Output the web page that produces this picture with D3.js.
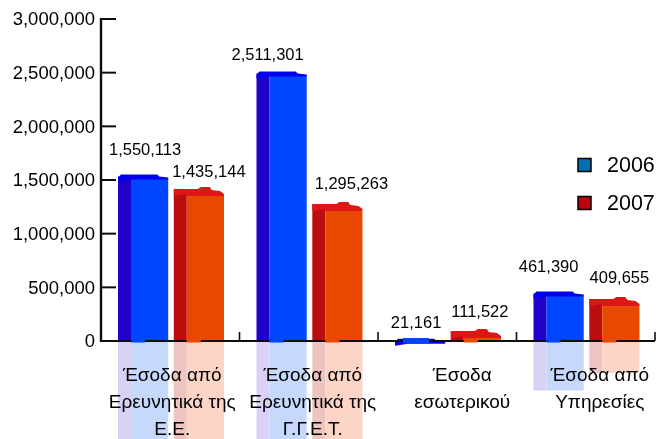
<!DOCTYPE html>
<html>
<head>
<meta charset="utf-8">
<script src="https://cdn.jsdelivr.net/npm/d3@7"></script>
<style>
    html, body { margin: 0; padding: 0; background: #fff; }
    svg { display: block; font-family: "Liberation Sans", Arial, sans-serif; }
</style>
</head>
<body>
<svg id="chart" width="660" height="439"></svg>
<script>
/*************************************data*************************************/
const categories = [
    ["Έσοδα από", "Ερευνητικά της", "Ε.Ε."],
    ["Έσοδα από", "Ερευνητικά της", "Γ.Γ.Ε.Τ."],
    ["Έσοδα", "εσωτερικού"],
    ["Έσοδα από", "Υπηρεσίες"]
]
const seriesNames = ["2006", "2007"]
const values2006 = [1550113, 2511301, 21161, 461390]
const values2007 = [1435144, 1295263, 111522, 409655]
const yTicks = [0, 500000, 1000000, 1500000, 2000000, 2500000, 3000000]

/*************************************style************************************/
const palette = {
    "2006": { side: "#2200cc", front: "#0044ff", cap: "#0000ee", sideRef: "#d9d2f6", frontRef: "#c6d9fc", legend: "#0070b0" },
    "2007": { side: "#bb1111", front: "#e84a00", cap: "#e01818", sideRef: "#eec4c1", frontRef: "#fdd5c6", legend: "#c00010" }
}
// value labels were placed by hand in the original, blue then red per group
const labelLift = [[20, 10], [11, 13], [11, 12], [19, 14]]
const labelShift = [[0, 8], [-16, 12], [-6, 2], [-12, 3]]
const catShift = [2, 4, 15, 14]

const width = 660, height = 439
const axisLeft = 101, axisRight = 655
const svg = d3.select("#chart")

const defs = svg.append("defs")
defs.append("filter").attr("id", "soft").attr("x", "-5%").attr("y", "-5%").attr("width", "110%").attr("height", "110%")
    .append("feGaussianBlur").attr("stdDeviation", 0.4)
defs.append("filter").attr("id", "rough").attr("x", "-5%").attr("y", "-20%").attr("width", "110%").attr("height", "140%")
    .append("feGaussianBlur").attr("stdDeviation", 0.75)

const yScale = d3.scaleLinear().domain([0, 3000000]).range([341, 19])
const xScale = d3.scaleBand().domain(d3.range(categories.length)).range([axisLeft, axisRight])
const innerX = d3.scaleBand().domain(seriesNames).range([17, 123]).paddingInner(0.1)
const bw = innerX.bandwidth()
const sideW = 13

const rows = []
seriesNames.forEach((name, s) => {
    const vals = s === 0 ? values2006 : values2007
    vals.forEach((v, i) => rows.push({ name, s, i, v }))
})
const barX = d => xScale(d.i) + innerX(d.name)
// mirror image under the axis, the red one loses its deeper cap
const refHeight = d => {
    const h = yScale(0) - yScale(d.v) - (d.s === 0 ? 0 : 12)
    return h < 5 ? 0 : h
}

const root = svg.append("g").attr("filter", "url(#soft)")

/*************************************reflections******************************/
const reflect = root.append("g")
reflect.selectAll("rect.sideRef").data(rows).enter().append("rect")
    .attr("x", barX).attr("y", yScale(0)).attr("width", sideW).attr("height", refHeight)
    .attr("fill", d => palette[d.name].sideRef)
reflect.selectAll("rect.frontRef").data(rows).enter().append("rect")
    .attr("x", d => barX(d) + sideW).attr("y", yScale(0)).attr("width", bw - sideW).attr("height", refHeight)
    .attr("fill", d => palette[d.name].frontRef)

/*************************************bars*************************************/
const bars = root.append("g")
const capDepth = d => d.s === 0 ? 4 : 9
bars.selectAll("rect.side").data(rows).enter().append("rect")
    .attr("x", barX).attr("y", d => yScale(d.v) + 2).attr("width", sideW)
    .attr("height", d => Math.max(0, yScale(0) - yScale(d.v) - 2))
    .attr("fill", d => palette[d.name].side)
bars.selectAll("rect.front").data(rows).enter().append("rect")
    .attr("x", d => barX(d) + sideW).attr("y", d => yScale(d.v) + capDepth(d)).attr("width", bw - sideW)
    .attr("height", d => Math.max(0, yScale(0) - yScale(d.v) - capDepth(d)))
    .attr("fill", d => palette[d.name].front)
bars.selectAll("path.cap").data(rows).enter().append("path")
    .attr("fill", d => palette[d.name].cap)
    .attr("d", d => {
        const x0 = barX(d), x1 = x0 + bw, t = yScale(d.v)
        if (d.s === 0) {
            return d3.line()([[x0, t + 3], [x0 + 3, t], [x1 - 11, t], [x1 - 9, t + 2], [x1, t + 3],
                [x1, t + 5], [x0 + sideW, t + 5], [x0, t + 7]])
        }
        return d3.line()([[x0, t + 2], [x0 + 24, t + 2], [x0 + 27, t], [x0 + 36, t], [x0 + 38, t + 3], [x1 - 4, t + 4],
            [x1, t + 7], [x1, t + 9], [x0 + sideW, t + 9], [x0 + 11, t + 7], [x0, t + 9]])
    })

/*************************************axes*************************************/
const yAxis = d3.axisLeft(yScale).tickValues(yTicks).tickFormat(d3.format(",")).tickSize(0).tickPadding(6)
const gy = svg.append("g").attr("transform", "translate(" + axisLeft + ",0)").attr("filter", "url(#rough)").call(yAxis)
gy.select(".domain").remove()
gy.selectAll("line").remove()
gy.selectAll("text").attr("font-size", 18.5).attr("fill", "#000").attr("font-family", "Liberation Sans")

const axisLines = root.append("g").attr("stroke", "#111").attr("fill", "none")
axisLines.append("line").attr("x1", axisLeft).attr("x2", axisLeft).attr("y1", yScale(3000000) - 1).attr("y2", yScale(0) + 1).attr("stroke-width", 2.4)
axisLines.selectAll("line.ytick").data(yTicks).enter().append("line")
    .attr("x1", axisLeft).attr("x2", axisLeft + 15).attr("y1", d => yScale(d)).attr("y2", d => yScale(d)).attr("stroke-width", 2)
axisLines.append("line").attr("x1", axisLeft).attr("x2", axisRight).attr("y1", yScale(0)).attr("y2", yScale(0)).attr("stroke-width", 2)
axisLines.selectAll("line.xtick").data(d3.range(1, categories.length + 1)).enter().append("line")
    .attr("x1", i => axisLeft + i * xScale.step()).attr("x2", i => axisLeft + i * xScale.step())
    .attr("y1", yScale(0)).attr("y2", yScale(0) - 9).attr("stroke-width", 1.6)

// the left part of every bar foot sits on top of the axis line, wider for the tiny bar
root.append("g").selectAll("path.foot").data(rows).enter().append("path")
    .attr("fill", d => palette[d.name].front)
    .attr("d", d => {
        const x0 = barX(d), tiny = d.v < 50000
        const a = tiny ? x0 + 8 : x0 + sideW, b = tiny ? x0 + 34 : x0 + 27, low = tiny ? 2.5 : 1.5
        return d3.line()([[a, yScale(0) - 3], [b, yScale(0) - 3], [b, yScale(0) + low], [a, yScale(0) + low]])
    })

/*************************************labels***********************************/
svg.append("g").attr("filter", "url(#rough)").selectAll("text.value").data(rows).enter().append("text")
    .attr("x", d => barX(d) + bw / 2 + labelShift[d.i][d.s] + 2)
    .attr("y", d => yScale(d.v) - labelLift[d.i][d.s])
    .attr("text-anchor", "middle").attr("font-size", 16.5).attr("fill", "#000")
    .text(d => d3.format(",")(d.v))

const catLabels = root.append("g").selectAll("text.cat").data(categories).enter().append("text")
    .attr("text-anchor", "middle").attr("font-size", 19).attr("fill", "#000")
catLabels.selectAll("tspan").data((d, i) => d.map(line => ({ line, i }))).enter().append("tspan")
    .attr("x", d => xScale(d.i) + xScale.bandwidth() / 2 + catShift[d.i])
    .attr("y", (d, j) => 381 + j * 27)
    .text(d => d.line)

/*************************************legend***********************************/
const legendY = d3.scalePoint().domain(seriesNames).range([165, 203])
const legend = root.append("g").selectAll("g").data(seriesNames).enter().append("g")
legend.append("rect").attr("x", 578).attr("y", d => legendY(d) - 6.5).attr("width", 13).attr("height", 13)
    .attr("fill", d => palette[d].legend).attr("stroke", "#000").attr("stroke-width", 1.5)
legend.append("text").attr("x", 607).attr("y", d => legendY(d) + 7).attr("font-size", 21.5).attr("fill", "#000").text(d => d)
</script>
</body>
</html>
